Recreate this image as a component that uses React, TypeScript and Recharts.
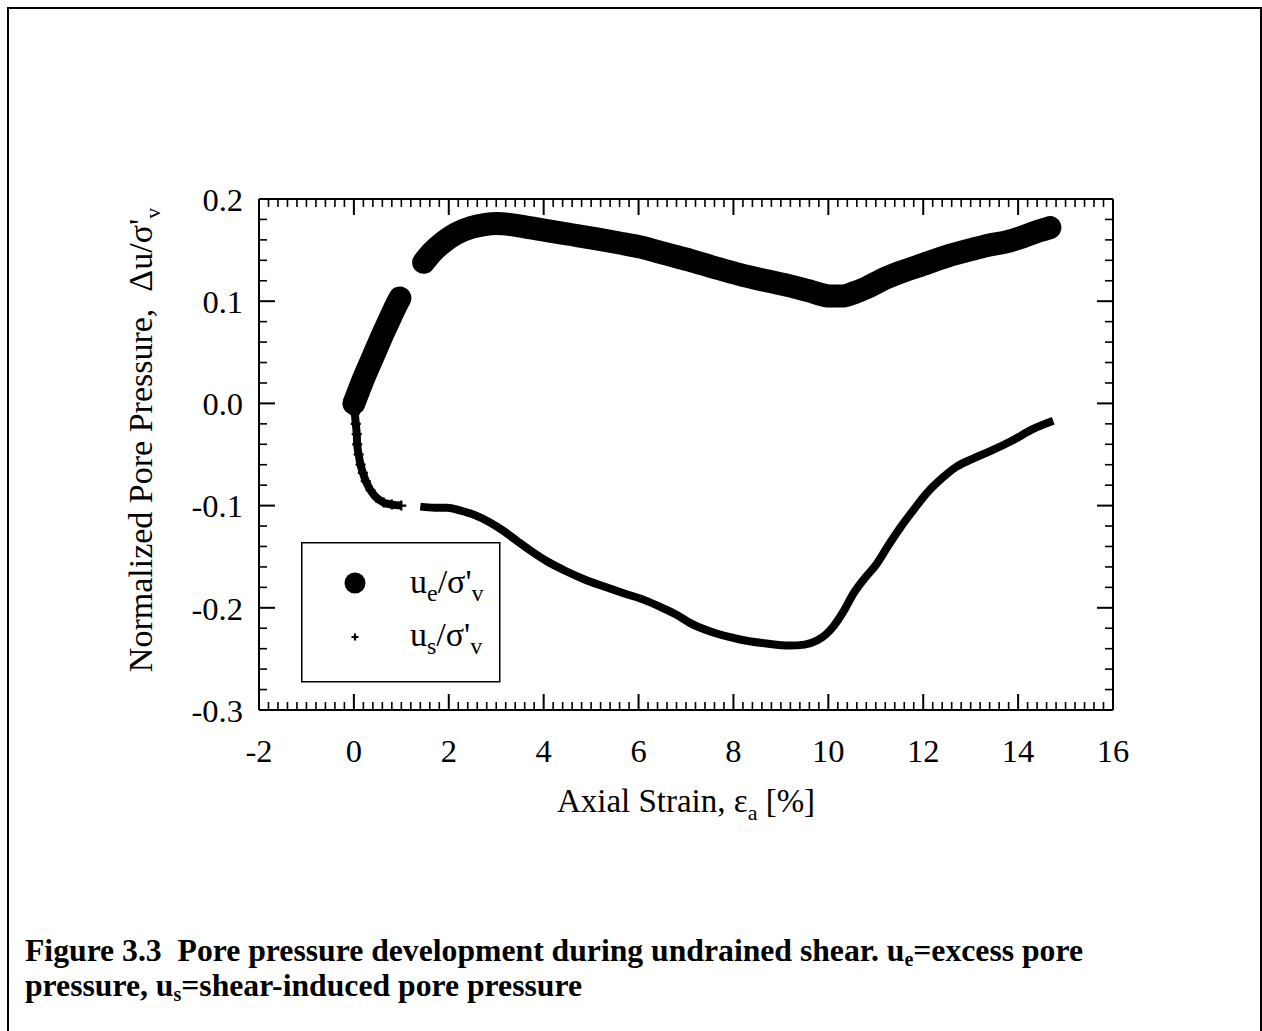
import React from 'react';
import { ComposedChart, Line, XAxis, YAxis, Legend } from 'recharts';

// ---- Data (axial strain %, normalized pore pressure) ----
const UE_SEG1 = [
  { x: 0, y: 0 }, { x: 0.1, y: 0.012 }, { x: 0.21, y: 0.025 }, { x: 0.35, y: 0.04 },
  { x: 0.49, y: 0.055 }, { x: 0.63, y: 0.07 }, { x: 0.77, y: 0.084 }, { x: 0.88, y: 0.095 },
  { x: 0.97, y: 0.103 },
];
const UE_SEG2 = [
  { x: 1.47, y: 0.138 }, { x: 1.65, y: 0.148 }, { x: 1.89, y: 0.158 }, { x: 2.15, y: 0.166 },
  { x: 2.46, y: 0.172 }, { x: 2.75, y: 0.175 }, { x: 3.02, y: 0.176 }, { x: 3.3, y: 0.175 },
  { x: 3.58, y: 0.173 }, { x: 4.07, y: 0.169 }, { x: 4.6, y: 0.165 }, { x: 5.12, y: 0.161 },
  { x: 5.6, y: 0.157 }, { x: 6.04, y: 0.153 }, { x: 6.6, y: 0.146 }, { x: 7.09, y: 0.14 },
  { x: 7.6, y: 0.133 }, { x: 8.14, y: 0.126 }, { x: 8.7, y: 0.12 }, { x: 9.19, y: 0.115 },
  { x: 9.6, y: 0.11 }, { x: 10.03, y: 0.105 }, { x: 10.3, y: 0.105 }, { x: 10.53, y: 0.108 },
  { x: 10.8, y: 0.113 }, { x: 11.09, y: 0.12 }, { x: 11.5, y: 0.128 }, { x: 12.0, y: 0.136 },
  { x: 12.5, y: 0.144 }, { x: 13.05, y: 0.151 }, { x: 13.4, y: 0.155 }, { x: 13.75, y: 0.158 },
  { x: 14.1, y: 0.163 }, { x: 14.46, y: 0.169 }, { x: 14.67, y: 0.172 },
];
const US_SEG1 = [
  { x: 0, y: 0 }, { x: 0.02, y: -0.01 }, { x: 0.04, y: -0.02 }, { x: 0.06, y: -0.03 },
  { x: 0.07, y: -0.04 }, { x: 0.1, y: -0.05 }, { x: 0.14, y: -0.06 }, { x: 0.19, y: -0.068 },
  { x: 0.25, y: -0.076 }, { x: 0.35, y: -0.085 }, { x: 0.47, y: -0.092 }, { x: 0.63, y: -0.097 },
  { x: 0.8, y: -0.099 }, { x: 1.0, y: -0.1 },
];
const US_SEG2 = [
  { x: 1.4, y: -0.101 }, { x: 1.7, y: -0.102 }, { x: 1.97, y: -0.102 }, { x: 2.25, y: -0.105 },
  { x: 2.53, y: -0.109 }, { x: 2.85, y: -0.116 }, { x: 3.16, y: -0.125 }, { x: 3.45, y: -0.135 },
  { x: 3.72, y: -0.144 }, { x: 4.05, y: -0.154 }, { x: 4.42, y: -0.163 }, { x: 4.85, y: -0.172 },
  { x: 5.26, y: -0.179 }, { x: 5.7, y: -0.186 }, { x: 6.1, y: -0.192 }, { x: 6.5, y: -0.2 },
  { x: 6.81, y: -0.207 }, { x: 7.09, y: -0.215 }, { x: 7.5, y: -0.223 }, { x: 8.14, y: -0.231 },
  { x: 8.7, y: -0.235 }, { x: 9.19, y: -0.237 }, { x: 9.5, y: -0.236 }, { x: 9.76, y: -0.232 },
  { x: 9.95, y: -0.226 }, { x: 10.11, y: -0.218 }, { x: 10.3, y: -0.205 }, { x: 10.53, y: -0.186 },
  { x: 10.75, y: -0.172 }, { x: 11.02, y: -0.157 }, { x: 11.25, y: -0.14 }, { x: 11.51, y: -0.122 },
  { x: 11.8, y: -0.104 }, { x: 12.07, y: -0.088 }, { x: 12.4, y: -0.073 }, { x: 12.7, y: -0.062 },
  { x: 13.05, y: -0.054 }, { x: 13.4, y: -0.047 }, { x: 13.89, y: -0.036 }, { x: 14.32, y: -0.025 },
  { x: 14.74, y: -0.017 },
];

// ---- Axis ticks ----
const X_DOMAIN = [-2, 16];
const X_MAJOR_STEP = 2;
const X_MINOR_STEP = 0.2;
const Y_DOMAIN = [-0.3, 0.2];
const Y_MAJOR_STEP = 0.1;
const Y_MINOR_STEP = 0.02;

const buildTicks = (lo: number, hi: number, step: number) => {
  const n = Math.round((hi - lo) / step);
  const out: number[] = [];
  for (let i = 0; i <= n; i++) out.push(Math.round((lo + i * step) * 1000) / 1000);
  return out;
};
const X_TICKS = buildTicks(X_DOMAIN[0], X_DOMAIN[1], X_MINOR_STEP);
const Y_TICKS = buildTicks(Y_DOMAIN[0], Y_DOMAIN[1], Y_MINOR_STEP);
const isMajor = (v: number, step: number) => Math.abs(v / step - Math.round(v / step)) < 1e-6;

const FONT = '"Liberation Serif", "Times New Roman", serif';
const TICK_FS = 32.5;

const XTick = (props: any) => {
  const { x, y, payload, top } = props;
  const v = payload.value;
  const major = isMajor(v, X_MAJOR_STEP);
  const len = major ? 16 : 8;
  const dir = top ? 1 : -1;
  return (
    <g>
      <line x1={x} x2={x} y1={y} y2={y + dir * len} stroke="#000" strokeWidth={major ? 2 : 1.6} />
      {!top && major && (
        <text x={x} y={y + 52} textAnchor="middle" fontFamily={FONT} fontSize={TICK_FS} fill="#000">
          {String(v)}
        </text>
      )}
    </g>
  );
};

const YTick = (props: any) => {
  const { x, y, payload, right } = props;
  const v = payload.value;
  const major = isMajor(v, Y_MAJOR_STEP);
  const len = major ? 16 : 8;
  const dir = right ? -1 : 1;
  return (
    <g>
      <line x1={x} x2={x + dir * len} y1={y} y2={y} stroke="#000" strokeWidth={major ? 2 : 1.6} />
      {!right && major && (
        <text x={x - 16} y={y} dy="0.36em" textAnchor="end" fontFamily={FONT} fontSize={TICK_FS} fill="#000">
          {v.toFixed(1)}
        </text>
      )}
    </g>
  );
};

const crossDot = (props: any) => {
  const { cx, cy, index } = props;
  if (cx == null || cy == null) return <g key={`c${index}`} />;
  return (
    <path
      key={`c${index}`}
      d={`M${cx - 5},${cy}H${cx + 5}M${cx},${cy - 5}V${cy + 5}`}
      stroke="#000"
      strokeWidth={2.2}
      fill="none"
    />
  );
};

const LegendBox = () => (
  <svg width={200} height={141} style={{ display: 'block', overflow: 'visible' }}>
    <rect x={0.75} y={0.75} width={198} height={139} fill="#fff" stroke="#000" strokeWidth={1.5} />
    <circle cx={54} cy={41} r={10.5} fill="#000" />
    <text x={109} y={51} fontFamily={FONT} fontSize={34} fill="#000">
      u<tspan fontSize={24} dy={8}>e</tspan>
      <tspan dy={-8}>/σ'</tspan>
      <tspan fontSize={24} dy={8}>v</tspan>
    </text>
    <path d="M50.5,95H57.5M54,91.5V98.5" stroke="#000" strokeWidth={2.2} />
    <text x={109} y={104} fontFamily={FONT} fontSize={34} fill="#000">
      u<tspan fontSize={24} dy={8}>s</tspan>
      <tspan dy={-8}>/σ'</tspan>
      <tspan fontSize={24} dy={8}>v</tspan>
    </text>
  </svg>
);

export default function App() {
  return (
    <div style={{ position: 'relative', width: 1262, height: 1031, overflow: 'hidden', background: '#fff' }}>
      <style>{`html,body{margin:0;padding:0;overflow:hidden;background:#fff}`}</style>
      <div
        style={{
          position: 'absolute',
          left: 7,
          top: 7,
          width: 1255,
          height: 1100,
          border: '2px solid #000',
          boxSizing: 'border-box',
        }}
      />
      <div style={{ position: 'absolute', left: 0, top: 0 }}>
        <ComposedChart
          width={1262}
          height={1031}
          margin={{ top: 198, right: 148, bottom: 320, left: 258 }}
        >
          <XAxis
            xAxisId="bottom"
            type="number"
            dataKey="x"
            domain={X_DOMAIN}
            ticks={X_TICKS}
            interval={0}
            height={1}
            tickSize={0}
            tickMargin={0}
            tickLine={false}
            axisLine={{ stroke: '#000', strokeWidth: 2 }}
            tick={(p: any) => <XTick {...p} top={false} />}
            allowDataOverflow
          />
          <XAxis
            xAxisId="top"
            orientation="top"
            type="number"
            dataKey="x"
            domain={X_DOMAIN}
            ticks={X_TICKS}
            interval={0}
            height={1}
            tickSize={0}
            tickMargin={0}
            tickLine={false}
            axisLine={{ stroke: '#000', strokeWidth: 2 }}
            tick={(p: any) => <XTick {...p} top={true} />}
            allowDataOverflow
          />
          <YAxis
            yAxisId="left"
            type="number"
            dataKey="y"
            domain={Y_DOMAIN}
            ticks={Y_TICKS}
            interval={0}
            width={1}
            tickSize={0}
            tickMargin={0}
            tickLine={false}
            axisLine={{ stroke: '#000', strokeWidth: 2 }}
            tick={(p: any) => <YTick {...p} right={false} />}
            allowDataOverflow
          />
          <YAxis
            yAxisId="right"
            orientation="right"
            type="number"
            dataKey="y"
            domain={Y_DOMAIN}
            ticks={Y_TICKS}
            interval={0}
            width={1}
            tickSize={0}
            tickMargin={0}
            tickLine={false}
            axisLine={{ stroke: '#000', strokeWidth: 2 }}
            tick={(p: any) => <YTick {...p} right={true} />}
            allowDataOverflow
          />
          <Line
            xAxisId="bottom"
            yAxisId="left"
            data={US_SEG1}
            dataKey="y"
            type="monotone"
            stroke="#000"
            strokeWidth={8}
            dot={crossDot}
            activeDot={false}
            isAnimationActive={false}
            name="us1"
            legendType="none"
          />
          <Line
            xAxisId="bottom"
            yAxisId="left"
            data={US_SEG2}
            dataKey="y"
            type="monotone"
            stroke="#000"
            strokeWidth={8}
            dot={false}
            activeDot={false}
            isAnimationActive={false}
            name="us2"
            legendType="none"
          />
          <Line
            xAxisId="bottom"
            yAxisId="left"
            data={UE_SEG1}
            dataKey="y"
            type="monotone"
            stroke="#000"
            strokeWidth={23}
            strokeLinecap="round"
            strokeLinejoin="round"
            dot={false}
            activeDot={false}
            isAnimationActive={false}
            name="ue1"
            legendType="none"
          />
          <Line
            xAxisId="bottom"
            yAxisId="left"
            data={UE_SEG2}
            dataKey="y"
            type="monotone"
            stroke="#000"
            strokeWidth={23}
            strokeLinecap="round"
            strokeLinejoin="round"
            dot={false}
            activeDot={false}
            isAnimationActive={false}
            name="ue2"
            legendType="none"
          />
          <Legend
            layout="horizontal"
            verticalAlign="middle"
            align="center"
            content={() => <LegendBox />}
            wrapperStyle={{ position: 'absolute', left: 301, top: 542, width: 200, height: 141 }}
          />
        </ComposedChart>
      </div>
      <svg
        width={1262}
        height={1031}
        style={{ position: 'absolute', left: 0, top: 0, pointerEvents: 'none' }}
      >
        <text
          transform="translate(152,440) rotate(-90)"
          textAnchor="middle"
          fontFamily={FONT}
          fontSize={34}
          fill="#000"
          style={{ whiteSpace: 'pre' }}
        >
          {'Normalized Pore Pressure,  Δu/σ\''}
          <tspan fontSize={22} dy={8}>v</tspan>
        </text>
        <text x={686} y={812} textAnchor="middle" fontFamily={FONT} fontSize={33} fill="#000">
          {'Axial Strain, ε'}
          <tspan fontSize={22} dy={8}>a</tspan>
          <tspan dy={-8}>{' [%]'}</tspan>
        </text>
        <text x={25} y={961} fontFamily={FONT} fontWeight="bold" fontSize={31.7} fill="#000" style={{ whiteSpace: 'pre' }}>
          {'Figure 3.3  Pore pressure development during undrained shear. u'}
          <tspan fontSize={20} dy={5}>e</tspan>
          <tspan dy={-5}>=excess pore</tspan>
        </text>
        <text x={25} y={996} fontFamily={FONT} fontWeight="bold" fontSize={31.7} fill="#000" style={{ whiteSpace: 'pre' }}>
          {'pressure, u'}
          <tspan fontSize={20} dy={5}>s</tspan>
          <tspan dy={-5}>=shear-induced pore pressure</tspan>
        </text>
      </svg>
    </div>
  );
}
